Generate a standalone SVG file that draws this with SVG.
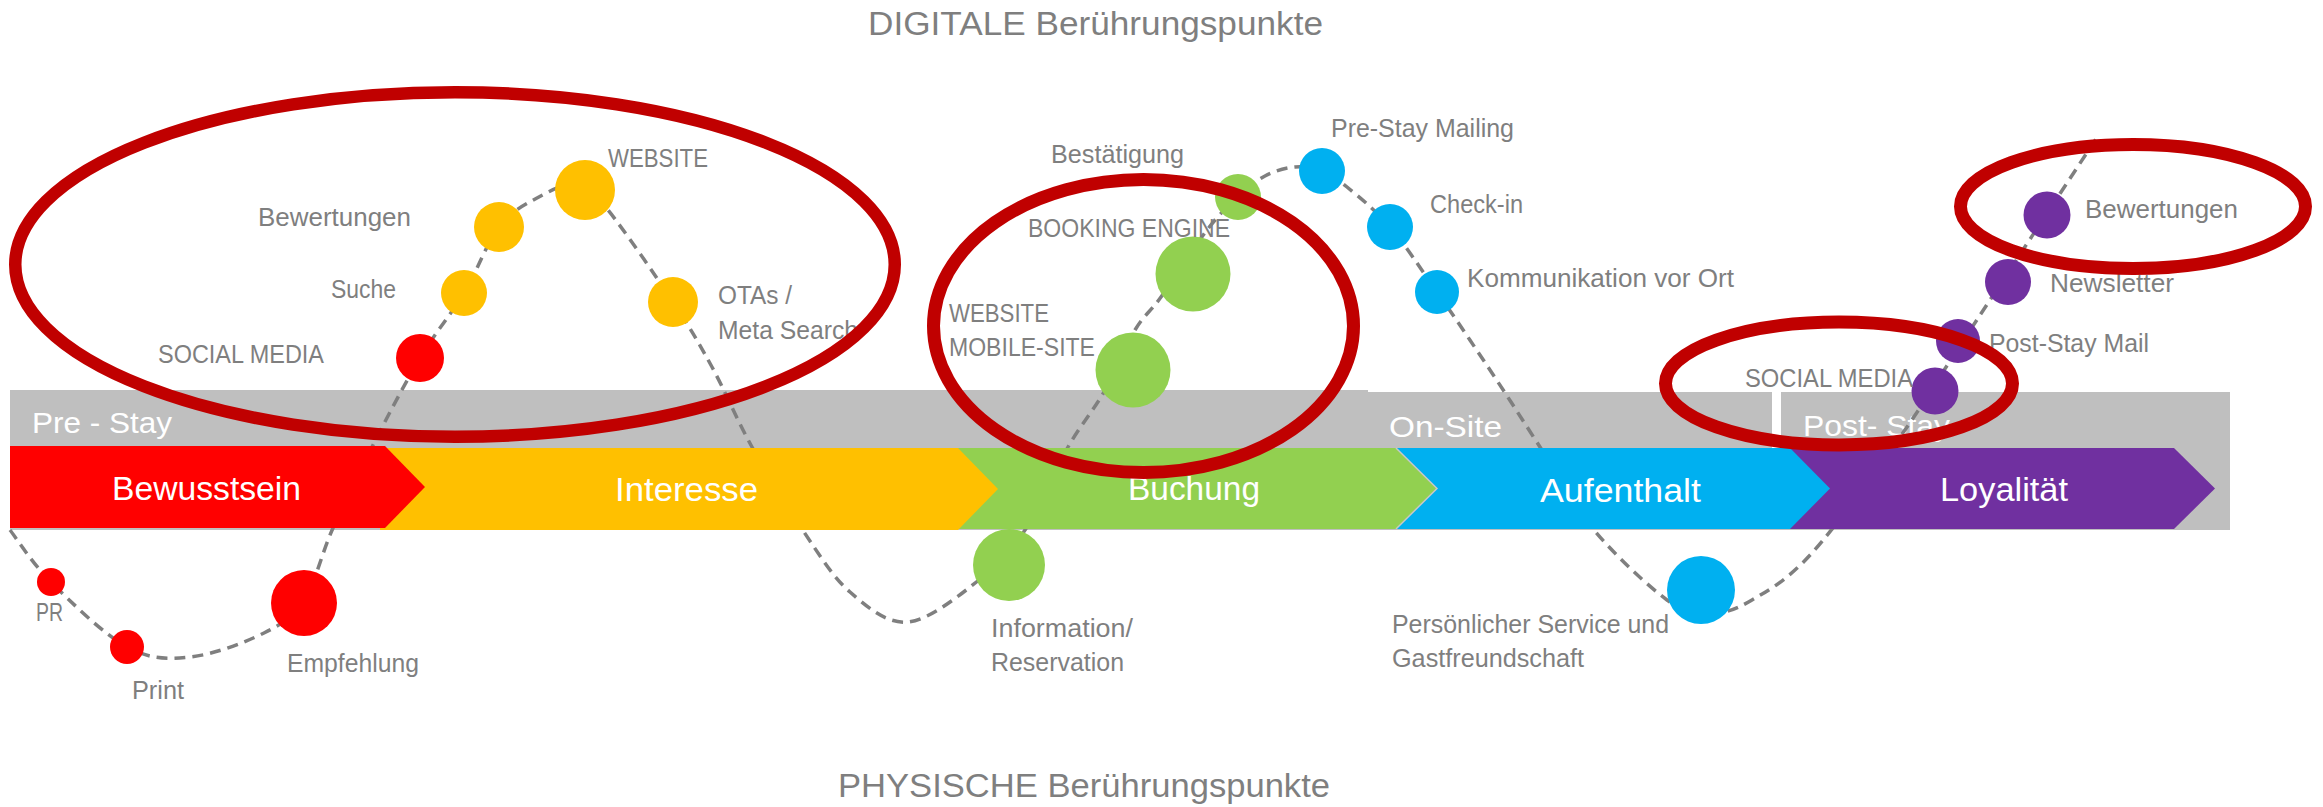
<svg xmlns="http://www.w3.org/2000/svg" width="2323" height="807" viewBox="0 0 2323 807">
<style>
  text { font-family: "Liberation Sans", Arial, sans-serif; }
  .lbl { font-size: 25px; fill: #7f7f7f; }
  .title { font-size: 33px; fill: #7f7f7f; }
  .band { font-size: 30px; fill: #ffffff; }
  .phase { font-size: 33px; fill: #ffffff; }
  .hl { fill: none; stroke: #c00000; }
  .red { fill: #ff0000; }
  .yel { fill: #ffc000; }
  .grn { fill: #92d050; }
  .blu { fill: #00b0f0; }
  .pur { fill: #7030a0; }
  .conn { fill: none; stroke: #7f7f7f; stroke-width: 3.5; stroke-dasharray: 11 7; }
</style>
<rect x="0" y="0" width="2323" height="807" fill="#ffffff"/>

<g id="titles">
  <text class="title" x="868" y="35" textLength="455" lengthAdjust="spacingAndGlyphs">DIGITALE Berührungspunkte</text>
  <text class="title" x="838" y="797" textLength="492" lengthAdjust="spacingAndGlyphs">PHYSISCHE Berührungspunkte</text>
</g>

<g id="stay-band">
  <rect x="10" y="390" width="1358" height="140" fill="#bfbfbf"/>
  <rect x="1368" y="392" width="862" height="138" fill="#bfbfbf"/>
  <rect x="1772" y="392" width="9" height="56" fill="#ffffff"/>
  <text class="band" x="32" y="433" textLength="140" lengthAdjust="spacingAndGlyphs">Pre - Stay</text>
  <text class="band" x="1389" y="437" textLength="113" lengthAdjust="spacingAndGlyphs">On-Site</text>
  <text class="band" x="1803" y="436" textLength="147" lengthAdjust="spacingAndGlyphs">Post- Stay</text>
</g>

<g id="connectors">
  <path class="conn" d="M10,530 C16.8,538.7 31.5,562.5 51,582 C70.5,601.5 103.8,634.5 127,647 C150.2,659.5 167.2,659.3 190,657 C212.8,654.7 245,642.5 264,633 C283,623.5 292.5,617.5 304,600 C315.5,582.5 321.5,553.8 333,528 C344.5,502.2 358.5,473.3 373,445 C387.5,416.7 404.8,383.3 420,358 C435.2,332.7 450.8,314.8 464,293 C477.2,271.2 486.8,242.8 499,227 C511.2,211.2 523.8,205.2 537,198 C550.2,190.8 566.2,182 578,184 C589.8,186 592.2,190.3 608,210 C623.8,229.7 655.7,275.8 673,302 C690.3,328.2 698.8,342.8 712,367 C725.2,391.2 736.7,419.5 752,447 C767.3,474.5 787.7,507.8 804,532 C820.3,556.2 832.7,577 850,592 C867.3,607 886.5,624 908,622 C929.5,620 959.5,595.3 979,580 C998.5,564.7 1010.2,552.2 1025,530 C1039.8,507.8 1054.8,470 1068,447 C1081.2,424 1092.8,411.5 1104,392 C1115.2,372.5 1125.5,345.8 1135,330 C1144.5,314.2 1149,313.7 1161,297 C1173,280.3 1194.2,246.7 1207,230 C1219.8,213.3 1228.3,206 1238,197 C1247.7,188 1255.5,181 1265,176 C1274.5,171 1285.5,167.8 1295,167 C1304.5,166.2 1313.3,167.7 1322,171 C1330.7,174.3 1335.7,177.7 1347,187 C1358.3,196.3 1375,209.5 1390,227 C1405,244.5 1420.3,268.2 1437,292 C1453.7,315.8 1472.8,344.2 1490,370 C1507.2,395.8 1522.7,420.3 1540,447 C1557.3,473.7 1572.8,504.5 1594,530 C1615.2,555.5 1648,586 1667,600 C1686,614 1693.8,614 1708,614 C1722.2,614 1734.7,610.2 1752,600 C1769.3,589.8 1787.3,580.2 1812,553 C1836.7,525.8 1874.8,472.3 1900,437 C1925.2,401.7 1930.3,390.7 1963,341 C1995.7,291.3 2073.8,172.7 2096,139"/>
</g>

<g id="phase-loyalitaet">
  <polygon class="pur" points="1780,448 2174,448 2215,488.5 2174,529 1780,529"/>
  <text class="phase" x="1940" y="501" textLength="128" lengthAdjust="spacingAndGlyphs">Loyalität</text>
</g>
<g id="phase-aufenthalt">
  <polygon class="blu" points="1390,448 1790,448 1830,488.5 1790,529 1390,529"/>
  <text class="phase" x="1540" y="502" textLength="161" lengthAdjust="spacingAndGlyphs">Aufenthalt</text>
</g>
<g id="phase-buchung">
  <polygon class="grn" points="950,448 1396,448 1437,488.5 1396,529 950,529"/>
  <polyline points="1396,448 1437,488.5 1396,529" fill="none" stroke="#c8c8c8" stroke-width="1.5"/>
  <text class="phase" x="1128" y="500" textLength="132" lengthAdjust="spacingAndGlyphs">Buchung</text>
</g>
<g id="phase-interesse">
  <polygon class="yel" points="380,448 958,448 998,489 958,530 380,530"/>
  <text class="phase" x="615" y="501" textLength="143" lengthAdjust="spacingAndGlyphs">Interesse</text>
</g>
<g id="phase-bewusstsein">
  <polygon class="red" points="10,446 385,446 425,487 385,528 10,528"/>
  <text class="phase" x="112" y="500" textLength="189" lengthAdjust="spacingAndGlyphs">Bewusstsein</text>
</g>

<g id="tp-pr"><circle class="red" cx="51" cy="582" r="14"/><text class="lbl" x="36" y="621" textLength="27" lengthAdjust="spacingAndGlyphs">PR</text></g>
<g id="tp-print"><circle class="red" cx="127" cy="647" r="17"/><text class="lbl" x="132" y="699" textLength="52" lengthAdjust="spacingAndGlyphs">Print</text></g>
<g id="tp-empfehlung"><circle class="red" cx="304" cy="603" r="33"/><text class="lbl" x="287" y="672" textLength="132" lengthAdjust="spacingAndGlyphs">Empfehlung</text></g>
<g id="tp-social-media-1"><circle class="red" cx="420" cy="358" r="24"/><text class="lbl" x="158" y="363" textLength="166" lengthAdjust="spacingAndGlyphs">SOCIAL MEDIA</text></g>
<g id="tp-suche"><circle class="yel" cx="464" cy="293" r="23"/><text class="lbl" x="331" y="298" textLength="65" lengthAdjust="spacingAndGlyphs">Suche</text></g>
<g id="tp-bewertungen-1"><circle class="yel" cx="499" cy="227" r="25"/><text class="lbl" x="258" y="226" textLength="153" lengthAdjust="spacingAndGlyphs">Bewertungen</text></g>
<g id="tp-website-1"><circle class="yel" cx="585" cy="190" r="30"/><text class="lbl" x="608" y="167" textLength="100" lengthAdjust="spacingAndGlyphs">WEBSITE</text></g>
<g id="tp-otas"><circle class="yel" cx="673" cy="302" r="25"/><text class="lbl" x="718" y="304" textLength="74" lengthAdjust="spacingAndGlyphs">OTAs /</text><text class="lbl" x="718" y="339" textLength="140" lengthAdjust="spacingAndGlyphs">Meta Search</text></g>
<g id="tp-information"><circle class="grn" cx="1009" cy="565" r="36"/><text class="lbl" x="991" y="637" textLength="142" lengthAdjust="spacingAndGlyphs">Information/</text><text class="lbl" x="991" y="671" textLength="133" lengthAdjust="spacingAndGlyphs">Reservation</text></g>
<g id="tp-website-mobile"><circle class="grn" cx="1133" cy="370" r="37.5"/><text class="lbl" x="949" y="322" textLength="100" lengthAdjust="spacingAndGlyphs">WEBSITE</text><text class="lbl" x="949" y="356" textLength="146" lengthAdjust="spacingAndGlyphs">MOBILE-SITE</text></g>
<g id="tp-booking-engine"><circle class="grn" cx="1193" cy="274" r="37.5"/><text class="lbl" x="1028" y="237" textLength="202" lengthAdjust="spacingAndGlyphs">BOOKING ENGINE</text></g>
<g id="tp-bestaetigung"><circle class="grn" cx="1238" cy="197" r="23"/><text class="lbl" x="1051" y="163" textLength="133" lengthAdjust="spacingAndGlyphs">Bestätigung</text></g>
<g id="tp-prestay-mailing"><circle class="blu" cx="1322" cy="171" r="23"/><text class="lbl" x="1331" y="137" textLength="183" lengthAdjust="spacingAndGlyphs">Pre-Stay Mailing</text></g>
<g id="tp-checkin"><circle class="blu" cx="1390" cy="227" r="23"/><text class="lbl" x="1430" y="213" textLength="93" lengthAdjust="spacingAndGlyphs">Check-in</text></g>
<g id="tp-kommunikation"><circle class="blu" cx="1437" cy="292" r="22"/><text class="lbl" x="1467" y="287" textLength="267" lengthAdjust="spacingAndGlyphs">Kommunikation vor Ort</text></g>
<g id="tp-service"><circle class="blu" cx="1701" cy="590" r="34"/><text class="lbl" x="1392" y="633" textLength="277" lengthAdjust="spacingAndGlyphs">Persönlicher Service und</text><text class="lbl" x="1392" y="667" textLength="192" lengthAdjust="spacingAndGlyphs">Gastfreundschaft</text></g>
<g id="tp-social-media-2"><circle class="pur" cx="1935" cy="391" r="23.5"/><text class="lbl" x="1745" y="387" textLength="168" lengthAdjust="spacingAndGlyphs">SOCIAL MEDIA</text></g>
<g id="tp-poststay-mail"><circle class="pur" cx="1958" cy="341" r="22"/><text class="lbl" x="1989" y="352" textLength="160" lengthAdjust="spacingAndGlyphs">Post-Stay Mail</text></g>
<g id="tp-newsletter"><circle class="pur" cx="2008" cy="282" r="23"/><text class="lbl" x="2050" y="292" textLength="124" lengthAdjust="spacingAndGlyphs">Newsletter</text></g>
<g id="tp-bewertungen-2"><circle class="pur" cx="2047" cy="215" r="23.5"/><text class="lbl" x="2085" y="218" textLength="153" lengthAdjust="spacingAndGlyphs">Bewertungen</text></g>

<g id="highlights">
  <ellipse class="hl" cx="455" cy="264.5" rx="439.75" ry="172.25" stroke-width="12.5"/>
  <ellipse class="hl" cx="1143.5" cy="326" rx="210" ry="146.5" stroke-width="13"/>
  <ellipse class="hl" cx="2133" cy="206.5" rx="172.5" ry="62" stroke-width="13"/>
  <ellipse class="hl" cx="1839" cy="383.5" rx="173.5" ry="61.5" stroke-width="13"/>
</g>
</svg>
